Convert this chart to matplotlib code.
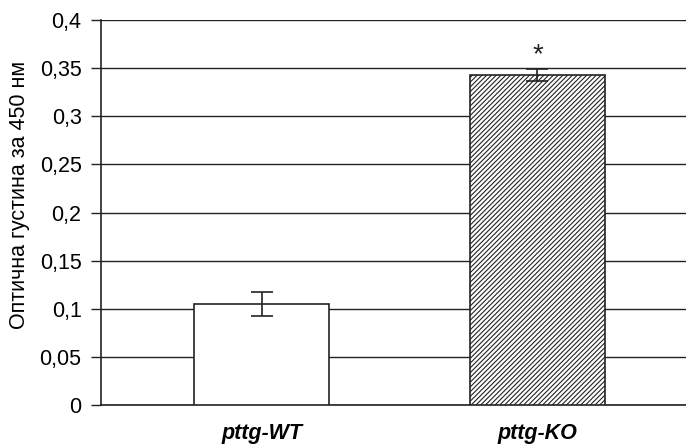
import numpy as np
import matplotlib.pyplot as plt
from matplotlib.ticker import FuncFormatter

plt.rcParams['font.family'] = ['Liberation Sans', 'DejaVu Sans']
plt.rcParams['hatch.linewidth'] = 0.8

groups = ['pttg-WT', 'pttg-KO']
values = [0.105, 0.343]
errors = [0.0125, 0.0065]
hatches = ['', '///////']
yticks = np.arange(0, 0.4001, 0.05)

fig = plt.figure(figsize=(6.86, 4.47), dpi=100)
ax = fig.add_axes([101 / 686, 42 / 447, 585 / 686, 385 / 447])

x = np.arange(len(groups))
for i in range(len(groups)):
    ax.bar(x[i], values[i], width=0.49, color='white', edgecolor='#222222',
           linewidth=1.2, hatch=hatches[i], zorder=3)
ax.errorbar(x, values, yerr=errors, fmt='none', ecolor='#222222',
            elinewidth=1.2, capsize=8, capthick=1.2, zorder=4)
ax.text(x[1], values[1] + errors[1], '*', ha='center', va='bottom',
        fontsize=20, color='#222222')

ax.set_xlim(-0.584, 1.539)
ax.set_ylim(0, 0.4)
ax.set_yticks(yticks)
ax.yaxis.set_major_formatter(FuncFormatter(lambda v, p: ('%g' % round(v, 2)).replace('.', ',')))
ax.yaxis.grid(True, color='#222222', linewidth=1.0, zorder=0)
ax.set_axisbelow(True)

ax.set_xticks(x)
ax.set_xticklabels(groups, fontsize=15.5, fontweight='bold', fontstyle='italic')
ax.tick_params(axis='x', length=0, pad=13)
ax.tick_params(axis='y', length=7, width=1, labelsize=15.5, pad=7, color='#222222')

for s in ['top', 'right']:
    ax.spines[s].set_visible(False)
for s in ['left', 'bottom']:
    ax.spines[s].set_color('#222222')
    ax.spines[s].set_linewidth(1.2)

ax.set_ylabel('Оптична густина за 450 нм', fontsize=15.5)
ax.yaxis.set_label_coords(-0.121, 0.545)

fig.savefig('out.png', dpi=100)
